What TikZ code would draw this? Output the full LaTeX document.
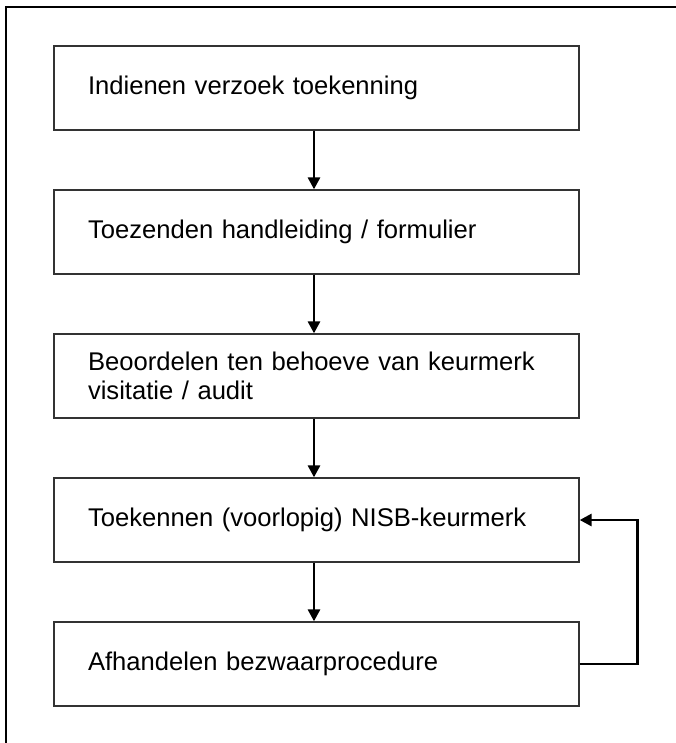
\documentclass[tikz,border=0pt]{standalone}
\usepackage{fontspec}
\setmainfont{Liberation Sans}
\usetikzlibrary{arrows.meta}
\begin{document}
\begin{tikzpicture}[x=1pt,y=-1pt,
  stepbox/.style={draw=black!80,line width=1.3pt,minimum width=525pt,minimum height=84pt,
    text width=457pt,align=left,inner xsep=0pt,inner ysep=0pt,
    font=\fontsize{25.6}{29.5}\selectfont},
  flow/.style={line width=2.8pt,-{Triangle[width=12pt,length=12pt]}}]
\useasboundingbox (0,0) rectangle (676,743);
\draw[line width=2pt] (6,743) -- (6,7) -- (676,7);
\node[stepbox] (b1) at (316.5,88) {Indienen verzoek toekenning};
\node[stepbox] (b2) at (316.5,232) {Toezenden handleiding / formulier};
\node[stepbox] (b3) at (316.5,376) {\raisebox{-6pt}{\parbox{457pt}{Beoordelen ten behoeve van keurmerk\\visitatie / audit}}};
\node[stepbox] (b4) at (316.5,520) {Toekennen (voorlopig) NISB-keurmerk};
\node[stepbox] (b5) at (316.5,664) {Afhandelen bezwaarprocedure};
\draw[flow] ([xshift=-2.5pt]b1.south) -- ([xshift=-2.5pt]b2.north);
\draw[flow] ([xshift=-2.5pt]b2.south) -- ([xshift=-2.5pt]b3.north);
\draw[flow] ([xshift=-2.5pt]b3.south) -- ([xshift=-2.5pt]b4.north);
\draw[flow] ([xshift=-2.5pt]b4.south) -- ([xshift=-2.5pt]b5.north);
\draw[flow,rounded corners=0pt] (b5.east) -- ++(58,0) |- (b4.east);
\end{tikzpicture}
\end{document}
